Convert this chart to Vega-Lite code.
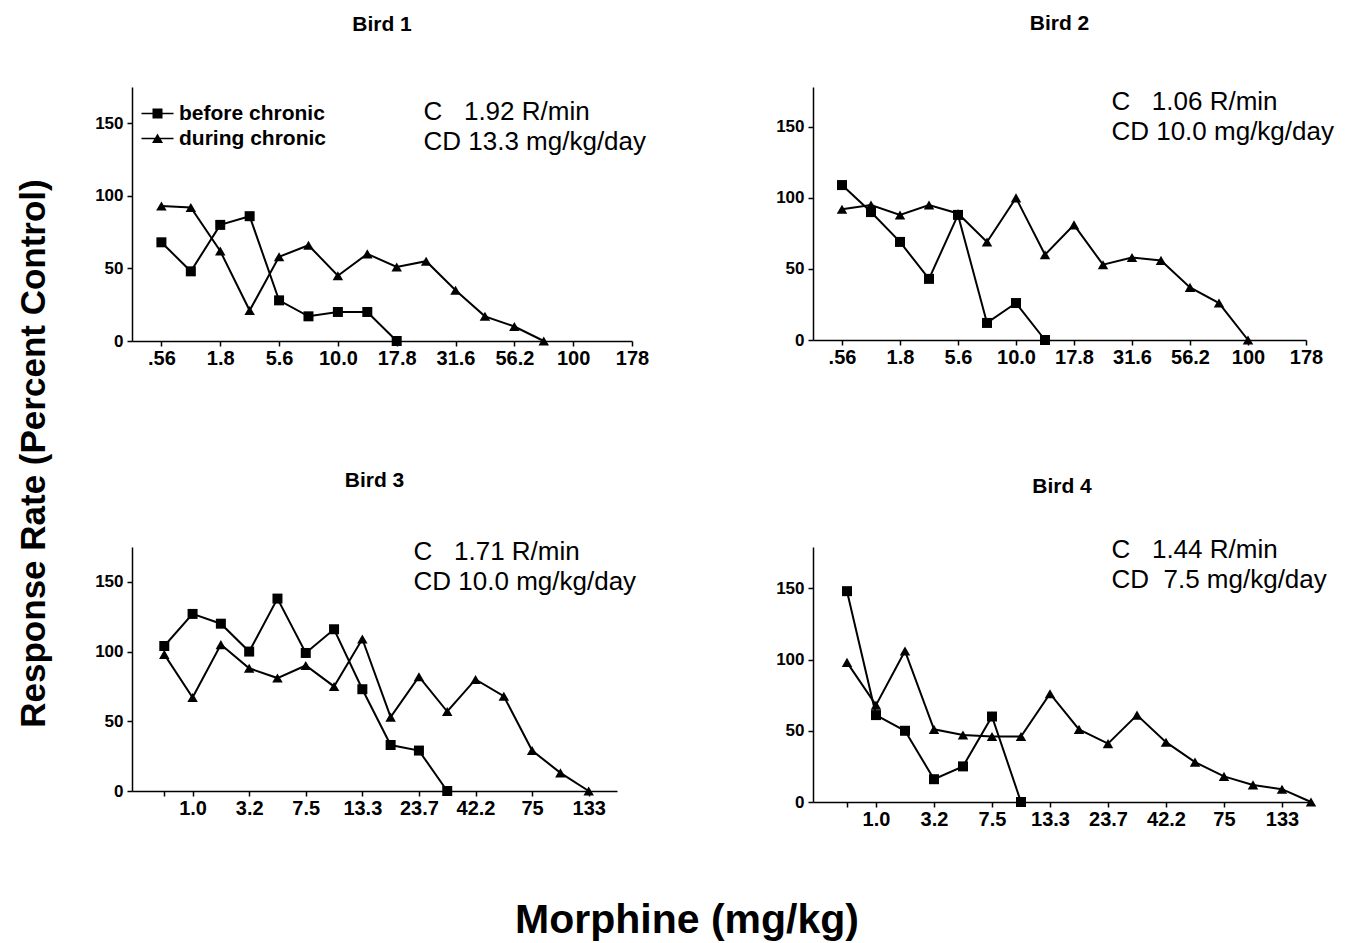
{
  "$schema": "https://vega.github.io/schema/vega-lite/v6.json",
  "autosize": {"type": "pad"},
  "padding": {"left": 16, "top": 13, "right": 5, "bottom": 0},
  "background": "white",
  "datasets": {
    "rates": [
      {"bird": "Bird 1", "phase": "before chronic", "step": 0, "rate": 68},
      {"bird": "Bird 1", "phase": "before chronic", "step": 1, "rate": 48},
      {"bird": "Bird 1", "phase": "before chronic", "step": 2, "rate": 80},
      {"bird": "Bird 1", "phase": "before chronic", "step": 3, "rate": 86},
      {"bird": "Bird 1", "phase": "before chronic", "step": 4, "rate": 28},
      {"bird": "Bird 1", "phase": "before chronic", "step": 5, "rate": 17},
      {"bird": "Bird 1", "phase": "before chronic", "step": 6, "rate": 20},
      {"bird": "Bird 1", "phase": "before chronic", "step": 7, "rate": 20},
      {"bird": "Bird 1", "phase": "before chronic", "step": 8, "rate": 0},
      {"bird": "Bird 1", "phase": "during chronic", "step": 0, "rate": 93},
      {"bird": "Bird 1", "phase": "during chronic", "step": 1, "rate": 92},
      {"bird": "Bird 1", "phase": "during chronic", "step": 2, "rate": 62},
      {"bird": "Bird 1", "phase": "during chronic", "step": 3, "rate": 21},
      {"bird": "Bird 1", "phase": "during chronic", "step": 4, "rate": 58},
      {"bird": "Bird 1", "phase": "during chronic", "step": 5, "rate": 66},
      {"bird": "Bird 1", "phase": "during chronic", "step": 6, "rate": 45},
      {"bird": "Bird 1", "phase": "during chronic", "step": 7, "rate": 60},
      {"bird": "Bird 1", "phase": "during chronic", "step": 8, "rate": 51},
      {"bird": "Bird 1", "phase": "during chronic", "step": 9, "rate": 55},
      {"bird": "Bird 1", "phase": "during chronic", "step": 10, "rate": 35},
      {"bird": "Bird 1", "phase": "during chronic", "step": 11, "rate": 17},
      {"bird": "Bird 1", "phase": "during chronic", "step": 12, "rate": 10},
      {"bird": "Bird 1", "phase": "during chronic", "step": 13, "rate": 0},
      {"bird": "Bird 2", "phase": "before chronic", "step": 0, "rate": 109},
      {"bird": "Bird 2", "phase": "before chronic", "step": 1, "rate": 90},
      {"bird": "Bird 2", "phase": "before chronic", "step": 2, "rate": 69},
      {"bird": "Bird 2", "phase": "before chronic", "step": 3, "rate": 43},
      {"bird": "Bird 2", "phase": "before chronic", "step": 4, "rate": 88},
      {"bird": "Bird 2", "phase": "before chronic", "step": 5, "rate": 12},
      {"bird": "Bird 2", "phase": "before chronic", "step": 6, "rate": 26},
      {"bird": "Bird 2", "phase": "before chronic", "step": 7, "rate": 0},
      {"bird": "Bird 2", "phase": "during chronic", "step": 0, "rate": 92},
      {"bird": "Bird 2", "phase": "during chronic", "step": 1, "rate": 95},
      {"bird": "Bird 2", "phase": "during chronic", "step": 2, "rate": 88},
      {"bird": "Bird 2", "phase": "during chronic", "step": 3, "rate": 95},
      {"bird": "Bird 2", "phase": "during chronic", "step": 4, "rate": 89},
      {"bird": "Bird 2", "phase": "during chronic", "step": 5, "rate": 69},
      {"bird": "Bird 2", "phase": "during chronic", "step": 6, "rate": 100},
      {"bird": "Bird 2", "phase": "during chronic", "step": 7, "rate": 60},
      {"bird": "Bird 2", "phase": "during chronic", "step": 8, "rate": 81},
      {"bird": "Bird 2", "phase": "during chronic", "step": 9, "rate": 53},
      {"bird": "Bird 2", "phase": "during chronic", "step": 10, "rate": 58},
      {"bird": "Bird 2", "phase": "during chronic", "step": 11, "rate": 56},
      {"bird": "Bird 2", "phase": "during chronic", "step": 12, "rate": 37},
      {"bird": "Bird 2", "phase": "during chronic", "step": 13, "rate": 26},
      {"bird": "Bird 2", "phase": "during chronic", "step": 14, "rate": 0},
      {"bird": "Bird 3", "phase": "before chronic", "step": 0, "rate": 104},
      {"bird": "Bird 3", "phase": "before chronic", "step": 1, "rate": 127},
      {"bird": "Bird 3", "phase": "before chronic", "step": 2, "rate": 120},
      {"bird": "Bird 3", "phase": "before chronic", "step": 3, "rate": 100},
      {"bird": "Bird 3", "phase": "before chronic", "step": 4, "rate": 138},
      {"bird": "Bird 3", "phase": "before chronic", "step": 5, "rate": 99},
      {"bird": "Bird 3", "phase": "before chronic", "step": 6, "rate": 116},
      {"bird": "Bird 3", "phase": "before chronic", "step": 7, "rate": 73},
      {"bird": "Bird 3", "phase": "before chronic", "step": 8, "rate": 33},
      {"bird": "Bird 3", "phase": "before chronic", "step": 9, "rate": 29},
      {"bird": "Bird 3", "phase": "before chronic", "step": 10, "rate": 0},
      {"bird": "Bird 3", "phase": "during chronic", "step": 0, "rate": 98},
      {"bird": "Bird 3", "phase": "during chronic", "step": 1, "rate": 67},
      {"bird": "Bird 3", "phase": "during chronic", "step": 2, "rate": 105},
      {"bird": "Bird 3", "phase": "during chronic", "step": 3, "rate": 88},
      {"bird": "Bird 3", "phase": "during chronic", "step": 4, "rate": 81},
      {"bird": "Bird 3", "phase": "during chronic", "step": 5, "rate": 90},
      {"bird": "Bird 3", "phase": "during chronic", "step": 6, "rate": 75},
      {"bird": "Bird 3", "phase": "during chronic", "step": 7, "rate": 109},
      {"bird": "Bird 3", "phase": "during chronic", "step": 8, "rate": 53},
      {"bird": "Bird 3", "phase": "during chronic", "step": 9, "rate": 82},
      {"bird": "Bird 3", "phase": "during chronic", "step": 10, "rate": 57},
      {"bird": "Bird 3", "phase": "during chronic", "step": 11, "rate": 80},
      {"bird": "Bird 3", "phase": "during chronic", "step": 12, "rate": 68},
      {"bird": "Bird 3", "phase": "during chronic", "step": 13, "rate": 29},
      {"bird": "Bird 3", "phase": "during chronic", "step": 14, "rate": 13},
      {"bird": "Bird 3", "phase": "during chronic", "step": 15, "rate": 0},
      {"bird": "Bird 4", "phase": "before chronic", "step": 0, "rate": 148},
      {"bird": "Bird 4", "phase": "before chronic", "step": 1, "rate": 61},
      {"bird": "Bird 4", "phase": "before chronic", "step": 2, "rate": 50},
      {"bird": "Bird 4", "phase": "before chronic", "step": 3, "rate": 16},
      {"bird": "Bird 4", "phase": "before chronic", "step": 4, "rate": 25},
      {"bird": "Bird 4", "phase": "before chronic", "step": 5, "rate": 60},
      {"bird": "Bird 4", "phase": "before chronic", "step": 6, "rate": 0},
      {"bird": "Bird 4", "phase": "during chronic", "step": 0, "rate": 98},
      {"bird": "Bird 4", "phase": "during chronic", "step": 1, "rate": 68},
      {"bird": "Bird 4", "phase": "during chronic", "step": 2, "rate": 106},
      {"bird": "Bird 4", "phase": "during chronic", "step": 3, "rate": 51},
      {"bird": "Bird 4", "phase": "during chronic", "step": 4, "rate": 47},
      {"bird": "Bird 4", "phase": "during chronic", "step": 5, "rate": 46},
      {"bird": "Bird 4", "phase": "during chronic", "step": 6, "rate": 46},
      {"bird": "Bird 4", "phase": "during chronic", "step": 7, "rate": 76},
      {"bird": "Bird 4", "phase": "during chronic", "step": 8, "rate": 51},
      {"bird": "Bird 4", "phase": "during chronic", "step": 9, "rate": 41},
      {"bird": "Bird 4", "phase": "during chronic", "step": 10, "rate": 61},
      {"bird": "Bird 4", "phase": "during chronic", "step": 11, "rate": 42},
      {"bird": "Bird 4", "phase": "during chronic", "step": 12, "rate": 28},
      {"bird": "Bird 4", "phase": "during chronic", "step": 13, "rate": 18},
      {"bird": "Bird 4", "phase": "during chronic", "step": 14, "rate": 12},
      {"bird": "Bird 4", "phase": "during chronic", "step": 15, "rate": 9},
      {"bird": "Bird 4", "phase": "during chronic", "step": 16, "rate": 0}
    ],
    "notes": [
      {"bird": "Bird 1", "lines": ["C\u00a0\u00a0\u00a01.92 R/min", "CD 13.3 mg/kg/day"]},
      {"bird": "Bird 2", "lines": ["C\u00a0\u00a0\u00a01.06 R/min", "CD 10.0 mg/kg/day"]},
      {"bird": "Bird 3", "lines": ["C\u00a0\u00a0\u00a01.71 R/min", "CD 10.0 mg/kg/day"]},
      {"bird": "Bird 4", "lines": ["C\u00a0\u00a0\u00a01.44 R/min", "CD\u00a0\u00a07.5 mg/kg/day"]}
    ]
  },
  "title": {"text": "Morphine (mg/kg)", "orient": "bottom", "fontSize": 41, "fontWeight": "bold", "offset": 72, "dx": 12, "anchor": "middle", "frame": "bounds", "color": "#000", "font": "Liberation Sans"},
  "bounds": "flush",
  "columns": 2,
  "spacing": {"row": 206, "column": 181},
  "concat": [
    {
      "title": {"text": "Bird 1", "offset": 52},
      "width": 500, "height": 254,
      "layer": [
        {"data": {"name": "rates"}, "transform": [{"filter": "datum.bird === 'Bird 1'"}],
         "mark": {"type": "line", "color": "black", "strokeWidth": 2},
         "encoding": {
           "x": {"field": "step", "type": "quantitative", "title": null, "scale": {"domain": [-1, 16], "nice": false, "zero": false},
                 "axis": {"values": [0,1,2,3,4,5,6,7,8,9,10,11,12,13,14,15,16], "labelOverlap": false, "labelExpr": "['.56',' ','1.8',' ','5.6',' ','10.0',' ','17.8',' ','31.6',' ','56.2',' ','100',' ','178'][datum.value]"}},
           "y": {"field": "rate", "type": "quantitative", "title": "Response Rate (Percent Control)", "scale": {"domain": [0, 175], "nice": false},
                 "axis": {"values": [0, 50, 100, 150], "labelOverlap": false, "titleX": -99, "titleY": 366, "titleAngle": -90, "titleAlign": "center", "titleBaseline": "middle",
                          "titleFontSize": 35, "titleFontWeight": "bold", "titleColor": "#000", "titleFont": "Liberation Sans"}},
           "detail": {"field": "phase"}}},
        {"data": {"name": "rates"}, "transform": [{"filter": "datum.bird === 'Bird 1' && datum.phase === 'before chronic'"}],
         "mark": {"type": "square", "color": "black", "size": 100, "opacity": 1},
         "encoding": {"x": {"field": "step", "type": "quantitative"}, "y": {"field": "rate", "type": "quantitative"}}},
        {"data": {"name": "rates"}, "transform": [{"filter": "datum.bird === 'Bird 1' && datum.phase === 'during chronic'"}],
         "mark": {"type": "point", "shape": "triangle-up", "filled": true, "color": "black", "size": 110, "opacity": 1},
         "encoding": {"x": {"field": "step", "type": "quantitative"}, "y": {"field": "rate", "type": "quantitative"}}},
        {"data": {"name": "rates"}, "transform": [{"filter": "datum.bird === 'Bird 1'"}],
         "mark": {"type": "point", "filled": true, "color": "black", "size": 0, "opacity": 1},
         "encoding": {
           "x": {"field": "step", "type": "quantitative"},
           "y": {"field": "rate", "type": "quantitative"},
           "shape": {"field": "phase", "type": "nominal", "title": null,
             "scale": {"domain": ["before chronic", "during chronic"],
                       "range": ["M-1.6,-0.08H1.6V0.08H-1.6ZM-0.5,-0.5H0.5V0.5H-0.5Z", "M-1.6,-0.08H1.6V0.08H-1.6ZM-0.55,0.45L0,-0.5L0.55,0.45Z"]},
             "legend": {"orient": "none", "legendX": 15, "legendY": 16, "symbolSize": 400, "labelOffset": 11, "rowPadding": 3,
               "symbolOpacity": 1, "symbolFillColor": "black", "symbolStrokeWidth": 0,
               "labelFontSize": 21, "labelFontWeight": "bold", "labelColor": "#000", "labelFont": "Liberation Sans"}}}},
        {"data": {"name": "notes"}, "transform": [{"filter": "datum.bird === 'Bird 1'"}],
         "mark": {"type": "text", "align": "left", "baseline": "middle", "fontSize": 26, "lineHeight": 30, "font": "Liberation Sans", "color": "#000"},
         "encoding": {"x": {"datum": 8.91, "type": "quantitative"}, "y": {"datum": 158, "type": "quantitative"}, "text": {"field": "lines"}}}
      ]
    },
    {
      "title": {"text": "Bird 2", "offset": 53},
      "width": 493, "height": 253,
      "layer": [
        {"data": {"name": "rates"}, "transform": [{"filter": "datum.bird === 'Bird 2'"}],
         "mark": {"type": "line", "color": "black", "strokeWidth": 2},
         "encoding": {
           "x": {"field": "step", "type": "quantitative", "title": null, "scale": {"domain": [-1, 16], "nice": false, "zero": false},
                 "axis": {"values": [0,1,2,3,4,5,6,7,8,9,10,11,12,13,14,15,16], "labelOverlap": false, "labelExpr": "['.56',' ','1.8',' ','5.6',' ','10.0',' ','17.8',' ','31.6',' ','56.2',' ','100',' ','178'][datum.value]"}},
           "y": {"field": "rate", "type": "quantitative", "title": null, "scale": {"domain": [0, 178], "nice": false}, "axis": {"values": [0, 50, 100, 150], "labelOverlap": false}},
           "detail": {"field": "phase"}}},
        {"data": {"name": "rates"}, "transform": [{"filter": "datum.bird === 'Bird 2' && datum.phase === 'before chronic'"}],
         "mark": {"type": "square", "color": "black", "size": 100, "opacity": 1},
         "encoding": {"x": {"field": "step", "type": "quantitative"}, "y": {"field": "rate", "type": "quantitative"}}},
        {"data": {"name": "rates"}, "transform": [{"filter": "datum.bird === 'Bird 2' && datum.phase === 'during chronic'"}],
         "mark": {"type": "point", "shape": "triangle-up", "filled": true, "color": "black", "size": 110, "opacity": 1},
         "encoding": {"x": {"field": "step", "type": "quantitative"}, "y": {"field": "rate", "type": "quantitative"}}},
        {"data": {"name": "notes"}, "transform": [{"filter": "datum.bird === 'Bird 2'"}],
         "mark": {"type": "text", "align": "left", "baseline": "middle", "fontSize": 26, "lineHeight": 30, "font": "Liberation Sans", "color": "#000"},
         "encoding": {"x": {"datum": 9.29, "type": "quantitative"}, "y": {"datum": 167.5, "type": "quantitative"}, "text": {"field": "lines"}}}
      ]
    },
    {
      "title": {"text": "Bird 3", "offset": 48},
      "width": 485, "height": 244,
      "layer": [
        {"data": {"name": "rates"}, "transform": [{"filter": "datum.bird === 'Bird 3'"}],
         "mark": {"type": "line", "color": "black", "strokeWidth": 2},
         "encoding": {
           "x": {"field": "step", "type": "quantitative", "title": null, "scale": {"domain": [-1.141, 16], "nice": false, "zero": false},
                 "axis": {"values": [0,0,1,2,3,4,5,6,7,8,9,10,11,12,13,14,15,16], "labelOverlap": false, "labelExpr": "[' ','1.0',' ','3.2',' ','7.5',' ','13.3',' ','23.7',' ','42.2',' ','75',' ','133',' '][datum.value]"}},
           "y": {"field": "rate", "type": "quantitative", "title": null, "scale": {"domain": [0, 175], "nice": false}, "axis": {"values": [0, 50, 100, 150], "labelOverlap": false}},
           "detail": {"field": "phase"}}},
        {"data": {"name": "rates"}, "transform": [{"filter": "datum.bird === 'Bird 3' && datum.phase === 'before chronic'"}],
         "mark": {"type": "square", "color": "black", "size": 100, "opacity": 1},
         "encoding": {"x": {"field": "step", "type": "quantitative"}, "y": {"field": "rate", "type": "quantitative"}}},
        {"data": {"name": "rates"}, "transform": [{"filter": "datum.bird === 'Bird 3' && datum.phase === 'during chronic'"}],
         "mark": {"type": "point", "shape": "triangle-up", "filled": true, "color": "black", "size": 110, "opacity": 1},
         "encoding": {"x": {"field": "step", "type": "quantitative"}, "y": {"field": "rate", "type": "quantitative"}}},
        {"data": {"name": "notes"}, "transform": [{"filter": "datum.bird === 'Bird 3'"}],
         "mark": {"type": "text", "align": "left", "baseline": "middle", "fontSize": 26, "lineHeight": 30, "font": "Liberation Sans", "color": "#000"},
         "encoding": {"x": {"datum": 8.81, "type": "quantitative"}, "y": {"datum": 171.5, "type": "quantitative"}, "text": {"field": "lines"}}}
      ]
    },
    {
      "title": {"text": "Bird 4", "offset": 40},
      "width": 498, "height": 255,
      "layer": [
        {"data": {"name": "rates"}, "transform": [{"filter": "datum.bird === 'Bird 4'"}],
         "mark": {"type": "line", "color": "black", "strokeWidth": 2},
         "encoding": {
           "x": {"field": "step", "type": "quantitative", "title": null, "scale": {"domain": [-1.172, 16], "nice": false, "zero": false},
                 "axis": {"values": [0,0,1,2,3,4,5,6,7,8,9,10,11,12,13,14,15,16], "labelOverlap": false, "labelExpr": "[' ','1.0',' ','3.2',' ','7.5',' ','13.3',' ','23.7',' ','42.2',' ','75',' ','133',' '][datum.value]"}},
           "y": {"field": "rate", "type": "quantitative", "title": null, "scale": {"domain": [0, 179], "nice": false}, "axis": {"values": [0, 50, 100, 150], "labelOverlap": false}},
           "detail": {"field": "phase"}}},
        {"data": {"name": "rates"}, "transform": [{"filter": "datum.bird === 'Bird 4' && datum.phase === 'before chronic'"}],
         "mark": {"type": "square", "color": "black", "size": 100, "opacity": 1},
         "encoding": {"x": {"field": "step", "type": "quantitative"}, "y": {"field": "rate", "type": "quantitative"}}},
        {"data": {"name": "rates"}, "transform": [{"filter": "datum.bird === 'Bird 4' && datum.phase === 'during chronic'"}],
         "mark": {"type": "point", "shape": "triangle-up", "filled": true, "color": "black", "size": 110, "opacity": 1},
         "encoding": {"x": {"field": "step", "type": "quantitative"}, "y": {"field": "rate", "type": "quantitative"}}},
        {"data": {"name": "notes"}, "transform": [{"filter": "datum.bird === 'Bird 4'"}],
         "mark": {"type": "text", "align": "left", "baseline": "middle", "fontSize": 26, "lineHeight": 30, "font": "Liberation Sans", "color": "#000"},
         "encoding": {"x": {"datum": 9.12, "type": "quantitative"}, "y": {"datum": 176.9, "type": "quantitative"}, "text": {"field": "lines"}}}
      ]
    }
  ],
  "config": {
    "font": "Liberation Sans",
    "view": {"stroke": null},
    "title": {"fontSize": 21, "fontWeight": "bold", "color": "#000", "anchor": "middle", "font": "Liberation Sans"},
    "axis": {"grid": false, "domainColor": "#000", "domainWidth": 1.5, "tickColor": "#000", "tickWidth": 1.5,
             "labelColor": "#000", "labelFont": "Liberation Sans", "labelFontWeight": "bold",
             "labelOverlap": false, "labelFlush": false, "labelBound": false},
    "axisX": {"tickSize": 5, "labelPadding": 2, "labelFontSize": 20},
    "axisY": {"tickSize": 5, "labelPadding": 4, "labelFontSize": 17}
  }
}
